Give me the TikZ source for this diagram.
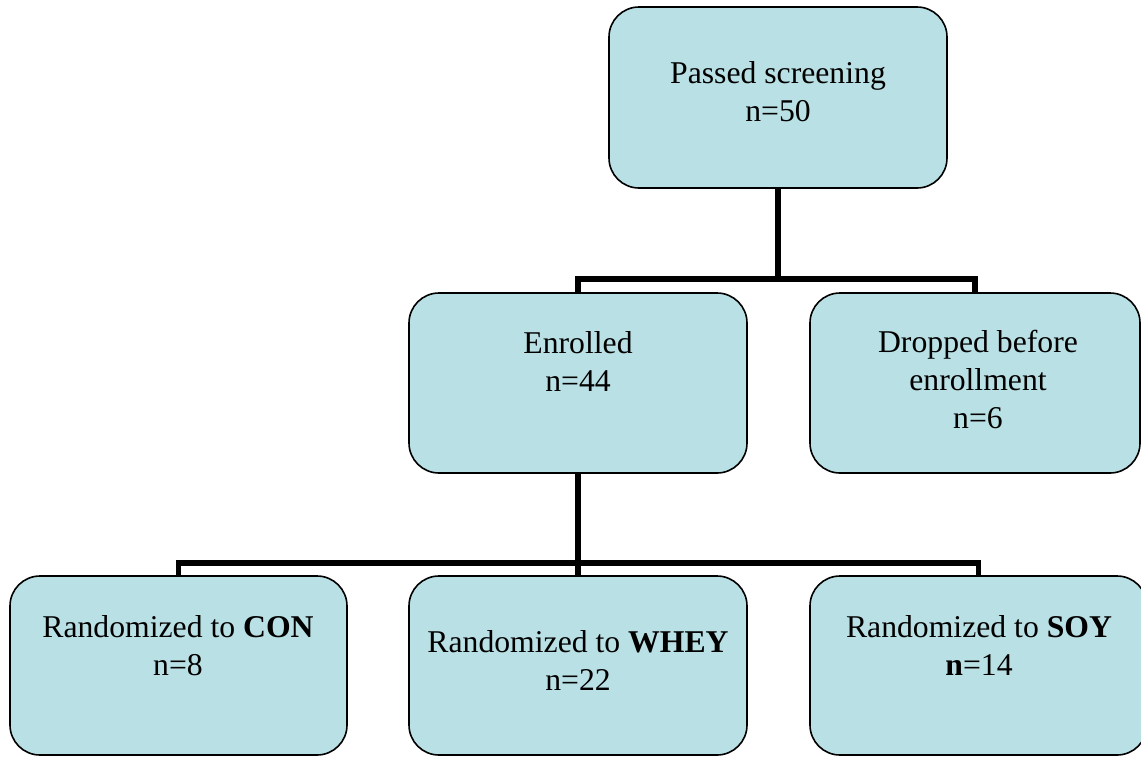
\documentclass[tikz,border=0pt]{standalone}
\usepackage{fontspec}
\setmainfont{Liberation Serif}
\definecolor{boxfill}{RGB}{185,224,228}
\tikzset{
  box/.style={draw=black, line width=1.6pt, fill=boxfill, rounded corners=30pt, inner sep=0pt},
  txt/.style={anchor=base, inner sep=0pt, font=\fontsize{31.7}{38}\selectfont},
  conn/.style={draw=black, line width=5.5pt, line join=miter}
}
\newcommand{\lns}[1]{\setlength{\tabcolsep}{0pt}\begin{tabular}[t]{c}#1\end{tabular}}
\begin{document}
\begin{tikzpicture}[x=1pt,y=-1pt]
\useasboundingbox (0,0) rectangle (1141,756);
\fill[white] (0,0) rectangle (1141,756);
% boxes
\node[box, minimum width=338pt, minimum height=181pt] (top) at (778,97.5) {};
\node[box, minimum width=338pt, minimum height=180pt] (enr) at (578,383) {};
\node[box, minimum width=330pt, minimum height=180pt] (drop) at (975,383) {};
\node[box, minimum width=337pt, minimum height=179pt] (con) at (178.5,665.5) {};
\node[box, minimum width=338pt, minimum height=179pt] (whey) at (578,665.5) {};
\node[box, minimum width=337pt, minimum height=179pt] (soy) at (978.5,665.5) {};
% junctions
\coordinate (j1) at (778,279);
\coordinate (j2) at (578,563);
% connectors
\draw[conn] (top.south) -- (top.south |- j1);
\draw[conn] (enr.north) -- (enr.north |- j1) -| (drop.north);
\draw[conn] (enr.south) -- (enr.south |- j2);
\draw[conn] (con.north) -- (con.north |- j2) -| (soy.north);
\draw[conn] (whey.north) -- (whey.north |- j2);
% texts
\node[txt] (topt) at (778,83) {\lns{Passed screening\\n=50}};
\node[txt] (enrt) at (578,353) {\lns{Enrolled\\n=44}};
\node[txt] (dropt) at (978,352) {\lns{Dropped before\\enrollment\\n=6}};
\node[txt] (cont) at (178,637) {\lns{Randomized to \textbf{CON}\\n=8}};
\node[txt] (wheyt) at (578,652) {\lns{Randomized to \textbf{WHEY}\\n=22}};
\node[txt] (soyt) at (979,637) {\lns{Randomized to \textbf{SOY}\\\textbf{n}=14}};
\end{tikzpicture}
\end{document}
